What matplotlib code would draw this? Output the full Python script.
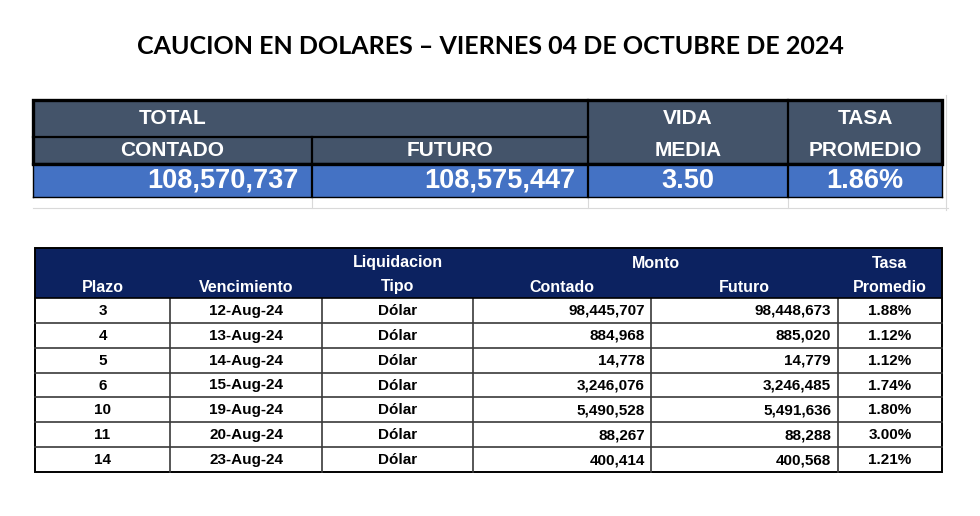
import numpy as np
import matplotlib
matplotlib.use('Agg')
import matplotlib.pyplot as plt
from matplotlib.patches import Rectangle

# datos
titulo = 'CAUCION EN DOLARES – VIERNES 04 DE OCTUBRE DE 2024'
total_contado = 108570737
total_futuro = 108575447
vida_media = 3.50
tasa_promedio = 1.86

plazo = [3, 4, 5, 6, 10, 11, 14]
vencimiento = ['12-Aug-24', '13-Aug-24', '14-Aug-24', '15-Aug-24',
               '19-Aug-24', '20-Aug-24', '23-Aug-24']
tipo = ['Dólar', 'Dólar', 'Dólar', 'Dólar', 'Dólar', 'Dólar', 'Dólar']
contado = [98445707, 884968, 14778, 3246076, 5490528, 88267, 400414]
futuro = [98448673, 885020, 14779, 3246485, 5491636, 88288, 400568]
tasa = [1.88, 1.12, 1.12, 1.74, 1.80, 3.00, 1.21]

ARIAL = ['Liberation Sans']

fig = plt.figure(figsize=(9.8, 5.16), dpi=100)
ax = fig.add_axes([0, 0, 1, 1])
ax.set_xlim(0, 980)
ax.set_ylim(516, 0)
ax.axis('off')

ax.text(490, 46, titulo, ha='center', va='center', fontsize=18,
        fontweight='bold', family=['Lato', 'DejaVu Sans'])

# ---- tabla resumen ----
tx = [33, 312, 588, 788, 942]
ty = [100, 137, 164, 197]
HEAD = '#44546A'
VAL = '#4472C4'

# lineas de cuadricula de excel
for x in tx[1:4]:
    ax.plot([x, x], [ty[3], 208], color='#d9d9d9', lw=0.8)
ax.plot([tx[0], tx[-1] + 6], [208, 208], color='#d9d9d9', lw=0.8)
ax.plot([tx[-1] + 4, tx[-1] + 4], [95, 210], color='#d9d9d9', lw=0.8)

ax.add_patch(Rectangle((tx[0], ty[0]), tx[-1] - tx[0], ty[2] - ty[0],
                       facecolor=HEAD, edgecolor='none'))
ax.add_patch(Rectangle((tx[0], ty[2]), tx[-1] - tx[0], ty[3] - ty[2],
                       facecolor=VAL, edgecolor='none'))

for x in tx[2:4]:
    ax.plot([x, x], [ty[0], ty[3]], color='black', lw=1.6)
ax.plot([tx[1], tx[1]], [ty[1], ty[3]], color='black', lw=1.6)
ax.plot([tx[0], tx[2]], [ty[1], ty[1]], color='black', lw=1.6)
ax.plot([tx[0], tx[-1]], [ty[2], ty[2]], color='black', lw=1.6)
ax.plot([tx[0], tx[-1]], [ty[3], ty[3]], color='black', lw=1.0)
ax.plot([tx[0], tx[0]], [ty[2], ty[3]], color='black', lw=1.0)
ax.plot([tx[-1], tx[-1]], [ty[2], ty[3]], color='black', lw=1.0)
ax.add_patch(Rectangle((tx[0], ty[0]), tx[-1] - tx[0], ty[2] - ty[0],
                       facecolor='none', edgecolor='black', lw=2.4))

hkw = dict(color='white', fontweight='bold', fontsize=15, family=ARIAL,
           ha='center', va='center')
ax.text((tx[0] + tx[1]) / 2, 118.5, 'TOTAL', **hkw)
ax.text((tx[0] + tx[1]) / 2, 150.5, 'CONTADO', **hkw)
ax.text((tx[1] + tx[2]) / 2, 150.5, 'FUTURO', **hkw)
ax.text((tx[2] + tx[3]) / 2, 118.5, 'VIDA', **hkw)
ax.text((tx[2] + tx[3]) / 2, 150.5, 'MEDIA', **hkw)
ax.text((tx[3] + tx[4]) / 2, 118.5, 'TASA', **hkw)
ax.text((tx[3] + tx[4]) / 2, 150.5, 'PROMEDIO', **hkw)

vkw = dict(color='white', fontweight='bold', fontsize=19.5, family=ARIAL,
           va='center')
ax.text(tx[1] - 13, 181, f'{total_contado:,}', ha='right', **vkw)
ax.text(tx[2] - 13, 181, f'{total_futuro:,}', ha='right', **vkw)
ax.text((tx[2] + tx[3]) / 2, 181, f'{vida_media:.2f}', ha='center', **vkw)
ax.text((tx[3] + tx[4]) / 2, 181, f'{tasa_promedio:.2f}%', ha='center', **vkw)

# ---- tabla detalle ----
bx = [35, 170, 322, 473, 651, 838, 942]
hy0, hy1 = 248, 298
by = np.linspace(hy1, 472, len(plazo) + 1)
NAVY = '#0C2260'

ax.add_patch(Rectangle((bx[0], hy0), bx[-1] - bx[0], hy1 - hy0,
                       facecolor=NAVY, edgecolor='none'))

bh = dict(color='white', fontweight='bold', fontsize=11.5, family=ARIAL,
          ha='center', va='center')
r1, r2 = 263, 287
ax.text((bx[2] + bx[3]) / 2, r1, 'Liquidacion', **bh)
ax.text((bx[3] + bx[5]) / 2, r1, 'Monto', **bh)
ax.text((bx[5] + bx[6]) / 2, r1, 'Tasa', **bh)
ax.text((bx[0] + bx[1]) / 2, r2, 'Plazo', **bh)
ax.text((bx[1] + bx[2]) / 2, r2, 'Vencimiento', **bh)
ax.text((bx[2] + bx[3]) / 2, r2, 'Tipo', **bh)
ax.text((bx[3] + bx[4]) / 2, r2, 'Contado', **bh)
ax.text((bx[4] + bx[5]) / 2, r2, 'Futuro', **bh)
ax.text((bx[5] + bx[6]) / 2, r2, 'Promedio', **bh)

for y in by[1:-1]:
    ax.plot([bx[0], bx[-1]], [y, y], color='#3a3a3a', lw=1.2)
for x in bx[1:-1]:
    ax.plot([x, x], [hy1, by[-1]], color='#3a3a3a', lw=1.2)
ax.add_patch(Rectangle((bx[0], hy0), bx[-1] - bx[0], by[-1] - hy0,
                       facecolor='none', edgecolor='black', lw=1.4))
ax.plot([bx[0], bx[-1]], [hy1, hy1], color='black', lw=1.2)

dkw = dict(color='black', fontsize=11, family=ARIAL, va='center',
           fontweight='bold')
for i in range(len(plazo)):
    yc = (by[i] + by[i + 1]) / 2 + 0.5
    ax.text((bx[0] + bx[1]) / 2, yc, str(plazo[i]), ha='center', **dkw)
    ax.text((bx[1] + bx[2]) / 2, yc, vencimiento[i], ha='center', **dkw)
    ax.text((bx[2] + bx[3]) / 2, yc, tipo[i], ha='center', **dkw)
    ax.text(bx[4] - 6, yc, f'{contado[i]:,}', ha='right', **dkw)
    ax.text(bx[5] - 7, yc, f'{futuro[i]:,}', ha='right', **dkw)
    ax.text((bx[5] + bx[6]) / 2, yc, f'{tasa[i]:.2f}%', ha='center', **dkw)

fig.savefig('out.png', dpi=100, facecolor='white')
